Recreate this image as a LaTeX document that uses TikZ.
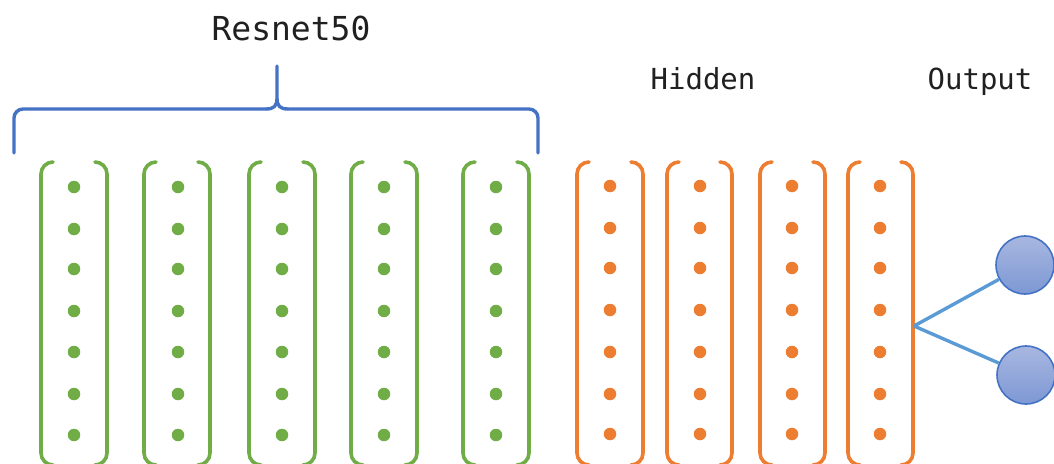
\documentclass[tikz,border=0pt]{standalone}
\usepackage{fontspec}
\newfontfamily\labelmono{DejaVu Sans Mono}
\usetikzlibrary{shadings}
\definecolor{resgreen}{HTML}{70AD47}
\definecolor{hidorange}{HTML}{ED7D31}
\definecolor{bracebl}{HTML}{4472C4}
\definecolor{linkbl}{HTML}{5B9BD5}
\definecolor{outtop}{HTML}{A8B7E0}
\definecolor{outbot}{HTML}{7D98D4}
\definecolor{labelink}{HTML}{202020}
\tikzset{
  colbracket/.style={line width=3.6pt, line cap=round, rounded corners=12pt},
  unitdot/.style={circle, inner sep=0pt, minimum size=12.5pt, fill=#1, draw=none},
  outunit/.style={circle, inner sep=0pt, minimum size=58pt, draw=bracebl, line width=1.6pt, top color=outtop, bottom color=outbot},
  link/.style={draw=linkbl, line width=3.4pt},
  ttlabel/.style={inner sep=0pt, anchor=base, text=labelink, font=\labelmono\fontsize{#1}{#1}\selectfont},
}
\newcommand{\layercol}[4]{% left x, right x, dot x, colour
  \draw[colbracket, draw=#4] (#1+12,162) -- (#1,162) -- (#1,465) -- (#1+12,465);
  \draw[colbracket, draw=#4] (#2-12,162) -- (#2,162) -- (#2,465) -- (#2-12,465);
}
\begin{document}
\begin{tikzpicture}[x=1pt,y=-1pt]
\useasboundingbox (0,0) rectangle (1054,463);
% brace
\draw[draw=bracebl, line width=3.4pt, line cap=round, rounded corners=9pt] (14,153) -- (14,109) -- (266,109);
\draw[draw=bracebl, line width=3.4pt, line cap=round, rounded corners=9pt] (288,109) -- (538,109) -- (538,153);
\draw[draw=bracebl, line width=3.4pt, line cap=round, line join=round] (266,109) .. controls (274,109) and (277,106) .. (277,98) -- (277,66) -- (277,98) .. controls (277,106) and (280,109) .. (288,109);
\node[ttlabel=33] (resnet) at (291,40) {Resnet50};
\node[ttlabel=29] (hidden) at (703,89) {Hidden};
\node[ttlabel=29] (output) at (980,89) {Output};
% green columns
\foreach \l/\r/\d [count=\i] in {41/107/74, 144/210/178, 249/315/282, 351/417/384, 463/529/496}{
  \layercol{\l}{\r}{\d}{resgreen}
  \foreach \y [count=\j] in {187,229,269,311,352,394,435}{
    \node[unitdot=resgreen] (g\i-\j) at (\d,\y) {};
  }
}
% orange columns
\foreach \l/\r/\d [count=\i] in {577/643/610, 667/732/700, 760/825/792, 848/913/880}{
  \layercol{\l}{\r}{\d}{hidorange}
  \foreach \y [count=\j] in {186,228,268,310,352,394,434}{
    \node[unitdot=hidorange] (h\i-\j) at (\d,\y) {};
  }
}
% output
\node[outunit] (o1) at (1025,265) {};
\node[outunit] (o2) at (1026,375) {};
\coordinate (hub) at (914,326);
\draw[link] (hub) -- (o1);
\draw[link] (hub) -- (o2);
\end{tikzpicture}
\end{document}
